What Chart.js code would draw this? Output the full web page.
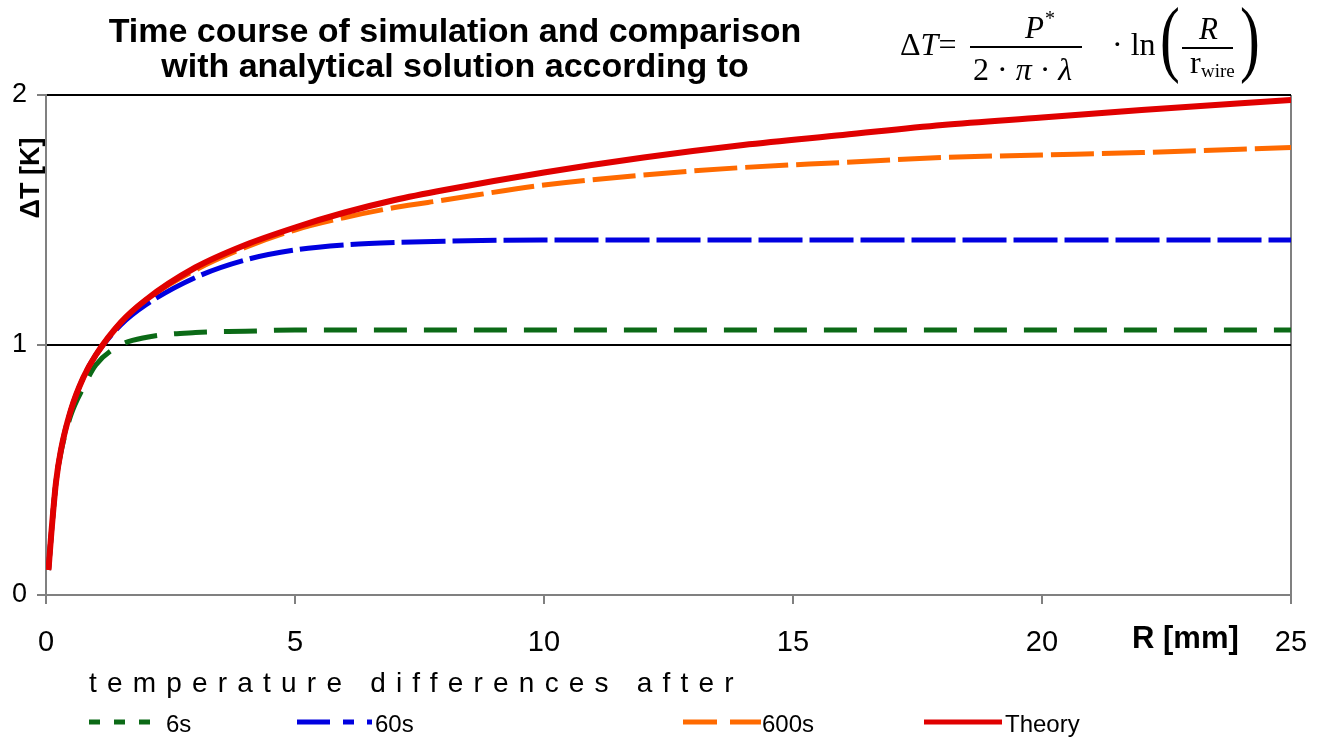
<!DOCTYPE html>
<html>
<head>
<meta charset="utf-8">
<script src="https://cdn.jsdelivr.net/npm/chart.js@4.4.1/dist/chart.umd.min.js"></script>
<style>
  body { margin: 0; background: #fff; }
  #wrap { position: relative; width: 1323px; height: 740px; overflow: hidden; font-family: "Liberation Sans", Arial, sans-serif; color: #000; }
  #wrap canvas { position: absolute; left: 0; top: 0; }
  .t { position: absolute; white-space: nowrap; line-height: 1; }
  .title { font-weight: bold; font-size: 34px; left: 0; width: 910px; text-align: center; }
  .f { font-family: "Liberation Serif", "Times New Roman", serif; font-size: 32px; }
  .i { font-style: italic; }
  .bar { position: absolute; height: 2px; background: #000; }
  .leg { font-size: 24px; }
</style>
</head>
<body>
<div id="wrap">
  <canvas id="chart" width="1323" height="740"></canvas>

  <div class="t title" style="top:13px">Time course of simulation and comparison</div>
  <div class="t title" style="top:48px">with analytical solution according to</div>

  <!-- formula -->
  <div class="t f" style="left:900px; top:28px">&Delta;<span class="i">T</span>=</div>
  <div class="t f i" style="left:1025px; top:12px; font-size:31px">P</div>
  <div class="t f" style="left:1045px; top:8px; font-size:20px">*</div>
  <div class="bar" style="left:970px; top:46px; width:112px"></div>
  <div class="t f" style="left:973px; top:53px">2 &middot; <span class="i">&pi;</span> &middot; <span class="i">&lambda;</span></div>
  <div class="t f" style="left:1112px; top:28px">&middot; ln</div>
  <div class="t f" style="left:1160px; top:-5px; font-size:85px; transform:scaleX(0.7); transform-origin:left">(</div>
  <div class="t f i" style="left:1199px; top:13px; font-size:31px">R</div>
  <div class="bar" style="left:1182px; top:47px; width:51px"></div>
  <div class="t f" style="left:1190px; top:46px">r</div>
  <div class="t f" style="left:1201px; top:61px; font-size:19px">wire</div>
  <div class="t f" style="left:1240px; top:-5px; font-size:85px; transform:scaleX(0.7); transform-origin:left">)</div>

  <!-- axis titles -->
  <div class="t" style="left:-30px; top:163px; width:120px; height:30px; line-height:30px; text-align:center; font-weight:bold; font-size:27px; transform:rotate(-90deg)">&Delta;T [K]</div>
  <div class="t" style="left:1132px; top:622px; font-weight:bold; font-size:31px">R [mm]</div>

  <!-- legend -->
  <div class="t" style="left:89px; top:669px; font-size:28px; letter-spacing:10.2px">temperature differences after</div>
  <div class="t leg" style="left:166px; top:712px">6s</div>
  <div class="t leg" style="left:375px; top:712px">60s</div>
  <div class="t leg" style="left:762px; top:712px">600s</div>
  <div class="t leg" style="left:1005px; top:712px">Theory</div>
</div>

<script>
// radius in mm
var radius = [0.05, 0.1, 0.2, 0.3, 0.5, 0.75, 1, 1.5, 2, 3, 4, 5, 6, 7, 8, 10, 12, 14, 16, 18, 20, 22, 25];

// delta T in K
var theory = [0.10, 0.23, 0.45, 0.58, 0.74, 0.87, 0.96, 1.09, 1.18, 1.31, 1.40, 1.47, 1.53, 1.58, 1.62, 1.69, 1.75, 1.80, 1.84, 1.88, 1.91, 1.94, 1.98];
var after600 = [0.10, 0.23, 0.45, 0.58, 0.74, 0.87, 0.96, 1.09, 1.18, 1.30, 1.39, 1.46, 1.51, 1.55, 1.58, 1.64, 1.68, 1.71, 1.73, 1.75, 1.76, 1.77, 1.79];
var after60 = [0.10, 0.23, 0.45, 0.58, 0.74, 0.87, 0.96, 1.08, 1.16, 1.27, 1.34, 1.38, 1.40, 1.41, 1.415, 1.42, 1.42, 1.42, 1.42, 1.42, 1.42, 1.42, 1.42];
var after6 = [0.10, 0.23, 0.45, 0.57, 0.72, 0.83, 0.92, 1.00, 1.03, 1.05, 1.055, 1.06, 1.06, 1.06, 1.06, 1.06, 1.06, 1.06, 1.06, 1.06, 1.06, 1.06, 1.06];

var xTicks = [0, 5, 10, 15, 20, 25];
var yTicks = [0, 1, 2];

let toPoints = (vals) => {
    return radius.map((r, i) => ({ x: r, y: vals[i] }));
}

let mkSet = (label, vals, color, dash, width, order) => {
    return {
        label: label,
        data: toPoints(vals),
        borderColor: color,
        borderWidth: width,
        borderDash: dash,
        pointRadius: 0,
        fill: false,
        cubicInterpolationMode: 'monotone',
        order: order
    }
}

// legend samples drawn under the html labels
var legendSamples = [
    { x0: 89, x1: 150, dash: [11, 14] },
    { x0: 297, x1: 372, dash: [33, 13, 11, 13, 5, 100] },
    { x0: 683, x1: 761, dash: [34, 13] },
    { x0: 924, x1: 1002, dash: [] }
];

const legendPlugin = {
    id: 'legendLines',
    afterDraw(chart) {
        const ctx = chart.ctx;
        // datasets are listed 6s, 60s, 600s, theory
        chart.data.datasets.forEach((ds, i) => {
            const s = legendSamples[i];
            ctx.save();
            ctx.strokeStyle = ds.borderColor;
            ctx.lineWidth = 5;
            ctx.setLineDash(s.dash);
            ctx.beginPath();
            ctx.moveTo(s.x0, 722);
            ctx.lineTo(s.x1, 722);
            ctx.stroke();
            ctx.restore();
        });
    }
};

Chart.defaults.font.family = '"Liberation Sans", Arial, sans-serif';
Chart.defaults.color = '#000';

let chart = new Chart(document.getElementById('chart'), {
    type: 'line',
    data: {
        datasets: [
            mkSet('6s', after6, '#0b6a16', [33, 17], 5, 4),
            mkSet('60s', after60, '#0000e0', [44, 7], 5, 3),
            mkSet('600s', after600, '#ff6a00', [43, 8], 5, 2),
            mkSet('Theory', theory, '#e00000', [], 6, 1)
        ]
    },
    options: {
        responsive: false,
        animation: false,
        devicePixelRatio: 1,
        layout: { padding: { top: 95, right: 32, left: 0, bottom: 0 } },
        plugins: {
            legend: { display: false },
            tooltip: { enabled: false }
        },
        scales: {
            x: {
                type: 'linear',
                min: 0,
                max: 25,
                afterFit: (scale) => {
                    scale.height = 145;
                    scale.paddingLeft = 0;
                    scale.paddingRight = 0;
                },
                afterBuildTicks: (scale) => { scale.ticks = xTicks.map(v => ({ value: v })); },
                ticks: { font: { size: 29 }, padding: 22, maxRotation: 0 },
                border: { color: '#808080', width: 2 },
                grid: {
                    color: (c) => c.tick && c.tick.value === 25 ? '#808080' : 'rgba(0,0,0,0)',
                    tickColor: '#808080',
                    lineWidth: 2,
                    tickLength: 9
                }
            },
            y: {
                min: 0,
                max: 2,
                afterFit: (scale) => {
                    scale.width = 46;
                    scale.paddingTop = 0;
                    scale.paddingBottom = 0;
                },
                afterBuildTicks: (scale) => { scale.ticks = yTicks.map(v => ({ value: v })); },
                ticks: { font: { size: 27 }, padding: 10 },
                border: { color: '#808080', width: 2 },
                grid: {
                    color: (c) => c.tick && c.tick.value === 0 ? 'rgba(0,0,0,0)' : '#000',
                    tickColor: '#808080',
                    lineWidth: 2,
                    tickLength: 9
                }
            }
        }
    },
    plugins: [legendPlugin]
});
</script>
</body>
</html>
